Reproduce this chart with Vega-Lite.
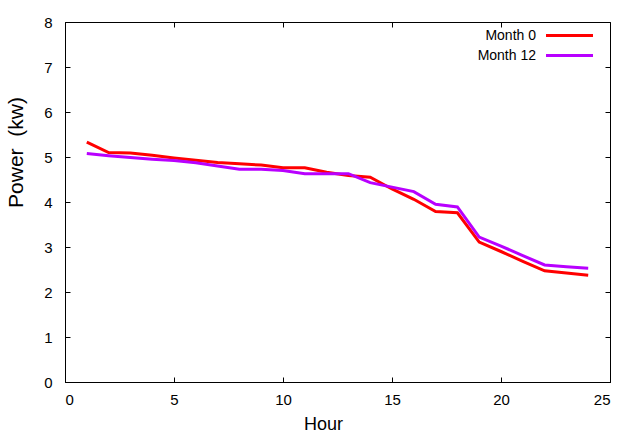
{
  "$schema": "https://vega.github.io/schema/vega-lite/v6.json",
  "width": 545,
  "height": 360,
  "autosize": {"type": "none"},
  "padding": {"left": 65, "top": 22, "right": 30, "bottom": 53},
  "background": "white",
  "config": {
    "font": "Liberation Sans",
    "view": {"stroke": "black", "strokeWidth": 1},
    "axis": {
      "grid": false,
      "domainColor": "black",
      "tickColor": "black",
      "tickSize": -5,
      "labelColor": "black",
      "labelFontSize": 15,
      "labelFont": "Liberation Sans",
      "titleFont": "Liberation Sans",
      "titleFontWeight": "normal",
      "titleColor": "black"
    }
  },
  "data": {
    "values": [
      {"hour": 1, "power": 5.33, "series": "Month 0"},
      {"hour": 2, "power": 5.10, "series": "Month 0"},
      {"hour": 3, "power": 5.09, "series": "Month 0"},
      {"hour": 4, "power": 5.04, "series": "Month 0"},
      {"hour": 5, "power": 4.98, "series": "Month 0"},
      {"hour": 6, "power": 4.93, "series": "Month 0"},
      {"hour": 7, "power": 4.88, "series": "Month 0"},
      {"hour": 8, "power": 4.85, "series": "Month 0"},
      {"hour": 9, "power": 4.82, "series": "Month 0"},
      {"hour": 10, "power": 4.76, "series": "Month 0"},
      {"hour": 11, "power": 4.76, "series": "Month 0"},
      {"hour": 12, "power": 4.66, "series": "Month 0"},
      {"hour": 13, "power": 4.59, "series": "Month 0"},
      {"hour": 14, "power": 4.55, "series": "Month 0"},
      {"hour": 15, "power": 4.29, "series": "Month 0"},
      {"hour": 16, "power": 4.06, "series": "Month 0"},
      {"hour": 17, "power": 3.79, "series": "Month 0"},
      {"hour": 18, "power": 3.76, "series": "Month 0"},
      {"hour": 19, "power": 3.11, "series": "Month 0"},
      {"hour": 20, "power": 2.90, "series": "Month 0"},
      {"hour": 21, "power": 2.68, "series": "Month 0"},
      {"hour": 22, "power": 2.47, "series": "Month 0"},
      {"hour": 23, "power": 2.42, "series": "Month 0"},
      {"hour": 24, "power": 2.37, "series": "Month 0"},
      {"hour": 1, "power": 5.08, "series": "Month 12"},
      {"hour": 2, "power": 5.03, "series": "Month 12"},
      {"hour": 3, "power": 4.99, "series": "Month 12"},
      {"hour": 4, "power": 4.95, "series": "Month 12"},
      {"hour": 5, "power": 4.92, "series": "Month 12"},
      {"hour": 6, "power": 4.87, "series": "Month 12"},
      {"hour": 7, "power": 4.80, "series": "Month 12"},
      {"hour": 8, "power": 4.73, "series": "Month 12"},
      {"hour": 9, "power": 4.73, "series": "Month 12"},
      {"hour": 10, "power": 4.70, "series": "Month 12"},
      {"hour": 11, "power": 4.63, "series": "Month 12"},
      {"hour": 12, "power": 4.63, "series": "Month 12"},
      {"hour": 13, "power": 4.63, "series": "Month 12"},
      {"hour": 14, "power": 4.43, "series": "Month 12"},
      {"hour": 15, "power": 4.33, "series": "Month 12"},
      {"hour": 16, "power": 4.23, "series": "Month 12"},
      {"hour": 17, "power": 3.95, "series": "Month 12"},
      {"hour": 18, "power": 3.89, "series": "Month 12"},
      {"hour": 19, "power": 3.22, "series": "Month 12"},
      {"hour": 20, "power": 3.02, "series": "Month 12"},
      {"hour": 21, "power": 2.81, "series": "Month 12"},
      {"hour": 22, "power": 2.60, "series": "Month 12"},
      {"hour": 23, "power": 2.56, "series": "Month 12"},
      {"hour": 24, "power": 2.53, "series": "Month 12"}
    ]
  },
  "layer": [
    {
      "mark": {"type": "line", "strokeWidth": 3},
      "encoding": {
        "x": {
          "field": "hour", "type": "quantitative",
          "scale": {"domain": [0, 25], "nice": false},
          "axis": {
            "title": "Hour", "values": [0, 5, 10, 15, 20, 25],
            "labelPadding": 15, "titleFontSize": 18,
            "titleX": 258, "titleY": 42, "titleBaseline": "middle"
          }
        },
        "y": {
          "field": "power", "type": "quantitative",
          "scale": {"domain": [0, 8], "nice": false},
          "axis": {
            "title": "Power\u00a0 (kw)", "values": [0, 1, 2, 3, 4, 5, 6, 7, 8],
            "labelPadding": 18, "titleFontSize": 21,
            "titleX": -49, "titleY": 130, "titleBaseline": "middle", "titleAlign": "center"
          }
        },
        "color": {
          "field": "series", "type": "nominal",
          "scale": {"domain": ["Month 0", "Month 12"], "range": ["#ff0000", "#b800ff"]},
          "legend": {
            "title": null,
            "orient": "none",
            "legendX": 497,
            "legendY": 6,
            "symbolType": "M-4,0H4",
            "symbolSize": 138,
            "symbolStrokeWidth": 3,
            "symbolFillColor": "transparent",
            "labelAlign": "right",
            "labelOffset": -41,
            "labelFontSize": 14,
            "labelColor": "black",
            "rowPadding": 5
          }
        }
      }
    },
    {
      "mark": {"type": "line", "opacity": 0},
      "encoding": {
        "x": {
          "field": "hour", "type": "quantitative",
          "axis": {"orient": "top", "title": null, "labels": false, "domain": false, "values": [0, 5, 10, 15, 20, 25]}
        },
        "y": {
          "field": "power", "type": "quantitative",
          "axis": {"orient": "right", "title": null, "labels": false, "domain": false, "values": [0, 1, 2, 3, 4, 5, 6, 7, 8]}
        },
        "detail": {"field": "series"}
      }
    }
  ],
  "resolve": {"axis": {"x": "independent", "y": "independent"}}
}
